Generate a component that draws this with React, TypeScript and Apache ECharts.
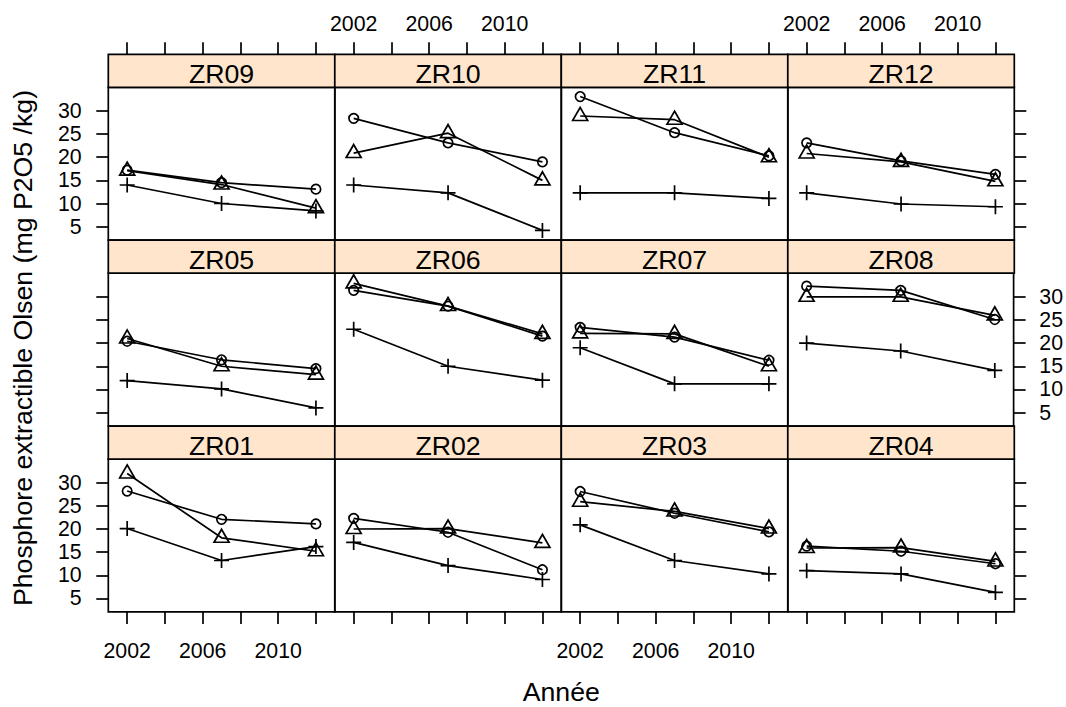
import React, { useEffect, useRef } from "react";
import * as echarts from "echarts";

// ---- data ----
const panelNames = ["ZR09", "ZR10", "ZR11", "ZR12", "ZR05", "ZR06", "ZR07", "ZR08", "ZR01", "ZR02", "ZR03", "ZR04"];
const years = [2002, 2007, 2012];

const circleValues = [
  [17.2, 14.5, 13.1],
  [28.4, 23.1, 19.0],
  [33.1, 25.3, 20.3],
  [23.1, 19.2, 16.3],
  [20.4, 16.4, 14.5],
  [31.4, 28.0, 21.5],
  [23.4, 21.3, 16.3],
  [32.3, 31.4, 25.1],
  [28.2, 22.1, 21.1],
  [22.3, 19.3, 11.2],
  [28.1, 23.4, 19.4],
  [16.3, 15.2, 12.5],
];
const triangleValues = [
  [17.1, 14.1, 9.0],
  [20.9, 25.2, 15.0],
  [28.9, 28.1, 20.0],
  [20.8, 19.0, 14.8],
  [21.0, 15.0, 13.2],
  [32.9, 28.0, 22.0],
  [22.1, 22.0, 15.0],
  [30.0, 30.0, 26.0],
  [32.0, 18.1, 15.2],
  [20.0, 20.1, 17.0],
  [25.9, 23.8, 20.1],
  [15.9, 16.0, 13.0],
];
const plusValues = [
  [14.0, 10.0, 8.4],
  [14.0, 12.3, 4.2],
  [12.3, 12.3, 11.1],
  [12.3, 9.9, 9.3],
  [11.9, 10.1, 6.0],
  [23.0, 15.0, 12.0],
  [19.0, 11.2, 11.2],
  [20.0, 18.3, 14.1],
  [20.1, 13.2, 16.2],
  [17.1, 12.1, 9.1],
  [20.9, 13.2, 10.3],
  [11.0, 10.3, 6.3],
];
const xTickValues = [2002, 2004, 2006, 2008, 2010, 2012];
const xLabelValues = [2002, 2006, 2010];
const yTickValues = [5, 10, 15, 20, 25, 30];

const yTitle = "Phosphore extractible Olsen (mg P2O5 /kg)";
const xTitle = "Année";

// ---- layout ----
const FONT = "'Liberation Sans', Arial, Helvetica, sans-serif";
const L0 = 108.3;
const PW = 226.5;
const T0 = 54.3;
const SH = 33;
const PH = 152.8;
const RS = 185.9;
const LW = 1.7;
const TICK_FS = 21.3;
const BIG_FS = 26.7;

function buildOption() {
  const grid: any[] = [];
  const xAxis: any[] = [];
  const yAxis: any[] = [];
  const series: any[] = [];
  const graphic: any[] = [];

  panelNames.forEach((name, i) => {
    const r = Math.floor(i / 4);
    const c = i % 4;
    const left = L0 + c * PW;
    const stripTop = T0 + r * RS;
    const top = stripTop + SH;
    grid.push({
      left,
      top,
      width: PW,
      height: PH,
      show: true,
      borderColor: "#000",
      borderWidth: LW,
      backgroundColor: "transparent",
      containLabel: false,
    });
    const showXLab = (r === 0 && c % 2 === 1) || (r === 2 && c % 2 === 0);
    xAxis.push({
      type: "value",
      gridIndex: i,
      min: 2001,
      max: 2013,
      position: r === 0 ? "top" : "bottom",
      offset: r === 0 ? SH : 0,
      axisLine: { show: false },
      splitLine: { show: false },
      axisTick: {
        show: r !== 1,
        inside: false,
        length: 12,
        customValues: xTickValues,
        lineStyle: { color: "#000", width: LW },
      },
      axisLabel: {
        show: showXLab,
        customValues: xLabelValues,
        formatter: (v: number) => String(v),
        color: "#000",
        fontFamily: FONT,
        fontSize: TICK_FS,
        margin: r === 0 ? 19.5 : 29,
      },
    });
    const showYLab = (c === 0 && r !== 1) || (c === 3 && r === 1);
    yAxis.push({
      type: "value",
      gridIndex: i,
      min: 2.1,
      max: 35.1,
      position: c === 3 ? "right" : "left",
      axisLine: { show: false },
      splitLine: { show: false },
      axisTick: {
        show: c === 0 || c === 3,
        inside: false,
        length: 12,
        customValues: yTickValues,
        lineStyle: { color: "#000", width: LW },
      },
      axisLabel: {
        show: showYLab,
        customValues: yTickValues,
        formatter: (v: number) => String(v),
        color: "#000",
        fontFamily: FONT,
        fontSize: TICK_FS,
        margin: c === 0 ? 26.6 : 25.7,
        padding: [8, 0, 0, 0],
      },
    });

    const mk = (vals: number[]) => years.map((y, k) => [y, vals[k]]);
    const common = {
      type: "line",
      xAxisIndex: i,
      yAxisIndex: i,
      lineStyle: { color: "#000", width: LW },
      itemStyle: { color: "rgba(0,0,0,0)", borderColor: "#000", borderWidth: LW },
      showSymbol: true,
      silent: true,
    };
    series.push({
      ...common,
      name: name + " groupe 1",
      symbol: "circle",
      symbolSize: 9.5,
      data: mk(circleValues[i]),
    });
    series.push({
      ...common,
      name: name + " groupe 2",
      symbol: "triangle",
      symbolSize: [15, 13],
      symbolOffset: [0, -2],
      data: mk(triangleValues[i]),
    });
    series.push({
      ...common,
      name: name + " groupe 3",
      symbol: "path://M5,0L5,10M0,5L10,5",
      symbolSize: 15,
      data: mk(plusValues[i]),
    });

    graphic.push({
      type: "rect",
      shape: { x: left, y: stripTop, width: PW, height: SH },
      style: { fill: "#FFE5CC", stroke: "#000", lineWidth: LW },
      z: 10,
    });
    graphic.push({
      type: "text",
      x: left + PW / 2,
      y: stripTop + SH / 2 + 3.5,
      style: {
        text: name,
        fill: "#000",
        font: `${BIG_FS}px ${FONT}`,
        align: "center",
        verticalAlign: "middle",
      },
      z: 11,
    });
  });

  graphic.push({
    type: "text",
    x: 23.3,
    y: 348,
    rotation: Math.PI / 2,
    style: {
      text: yTitle,
      fill: "#000",
      font: `${BIG_FS}px ${FONT}`,
      align: "center",
      verticalAlign: "middle",
    },
  });
  graphic.push({
    type: "text",
    x: L0 + 2 * PW,
    y: 692,
    style: {
      text: xTitle,
      fill: "#000",
      font: `${BIG_FS}px ${FONT}`,
      align: "center",
      verticalAlign: "middle",
    },
  });

  return {
    animation: false,
    backgroundColor: "#fff",
    textStyle: { fontFamily: FONT },
    grid,
    xAxis,
    yAxis,
    series,
    graphic,
  };
}

export default function App() {
  const ref = useRef<HTMLDivElement>(null);
  useEffect(() => {
    if (!ref.current) return;
    const chart = echarts.init(ref.current, undefined, { renderer: "svg" });
    chart.setOption(buildOption() as any);
    return () => chart.dispose();
  }, []);
  return (
    <div
      ref={ref}
      style={{ position: "absolute", left: 0, top: 0, width: 1066, height: 707, background: "#fff" }}
    />
  );
}
